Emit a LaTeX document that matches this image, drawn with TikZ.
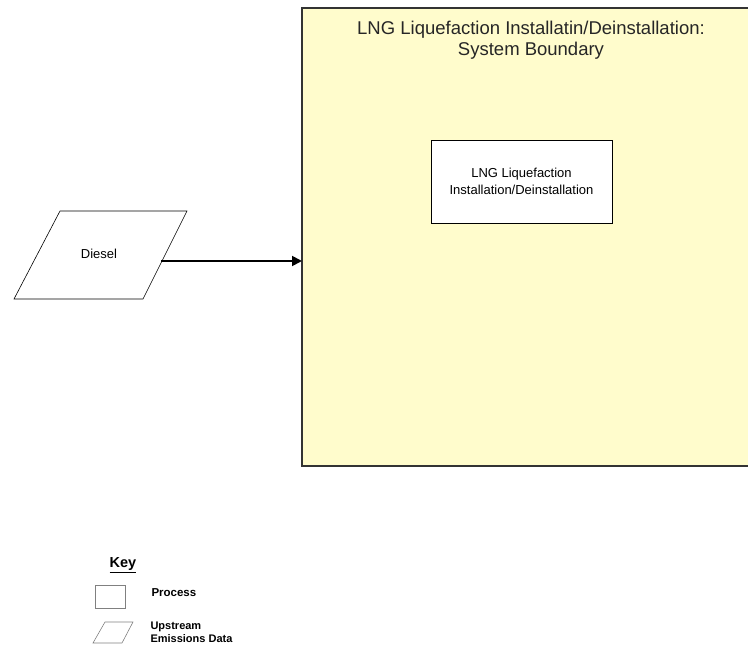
\documentclass[tikz,border=0pt]{standalone}
\usepackage{fontspec}
\setmainfont{Liberation Sans}
\usetikzlibrary{arrows.meta}
\begin{document}
\begin{tikzpicture}[x=1pt,y=-1pt,
  boundary/.style={draw=black!80, line width=1.2pt, fill=yellow!20},
  procbox/.style={draw=black, line width=0.8pt, fill=white},
  databox/.style={draw=black, line width=0.6pt, fill=white},
  keyproc/.style={draw=gray, line width=0.6pt},
  flow/.style={-{Triangle[length=10pt,width=10pt]}, line width=1.8pt}]
\useasboundingbox (0,0) rectangle (748,647);
\clip (0,0) rectangle (748,647);
% system boundary
\path[boundary] (302,8) rectangle (760,466);
\node[align=center, font=\fontsize{18.5}{21}\selectfont, text=black!85] (title) at (531,40)
  {LNG Liquefaction Installatin/Deinstallation:\\System Boundary};
% process
\node[procbox, minimum width=181pt, minimum height=83pt, align=center,
  font=\fontsize{13}{17}\selectfont] (proc) at (521.5,181.5)
  {LNG Liquefaction\\Installation/Deinstallation};
% diesel parallelogram
\path[databox] (60,211) -- (187,211) -- (143,299) -- (14,299) -- cycle;
\node[font=\fontsize{13}{15}\selectfont] (diesel) at (99,254) {Diesel};
\coordinate (dout) at (161,261);
\coordinate (din) at (302,261);
\draw[flow] (dout) -- (din);
% key
\node[font=\bfseries\fontsize{14.5}{16}\selectfont, anchor=west] (key) at (106,565) {\underline{Key}};
\node[keyproc, minimum width=30pt, minimum height=23pt] (kproc) at (110,596.5) {};
\node[font=\bfseries\fontsize{11.5}{13}\selectfont, anchor=west] (kproclbl) at (148,593) {Process};
\path[draw=gray, line width=0.6pt] (105,622) -- (133,622) -- (122,643) -- (93,643) -- cycle;
\node[font=\bfseries\fontsize{11}{13}\selectfont, anchor=west, align=left] (kdatalbl) at (147,632) {Upstream\\Emissions Data};
\end{tikzpicture}
\end{document}
